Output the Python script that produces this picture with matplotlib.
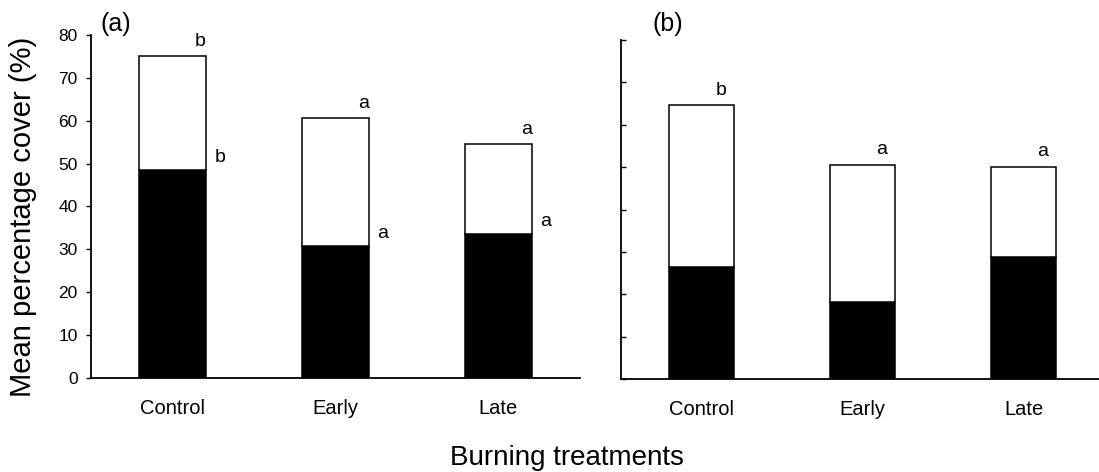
import matplotlib
matplotlib.use('Agg')
import matplotlib.pyplot as plt
import numpy as np

plt.rcParams['font.family'] = ['Liberation Sans', 'DejaVu Sans']

# values
treatments = ['Control', 'Early', 'Late']
total_a = [75.1, 60.6, 54.6]      # whole bar, panel (a)
lower_a = [48.5, 30.8, 33.6]      # black part, panel (a)
total_b = [64.6, 50.5, 50.1]      # whole bar, panel (b)
lower_b = [26.5, 18.1, 28.8]      # black part, panel (b)
letters_top_a = ['b', 'a', 'a']
letters_low_a = ['b', 'a', 'a']
letters_top_b = ['b', 'a', 'a']


def draw_panel(ax, total, lower, width=0.405):
    x = np.arange(1, len(total) + 1)
    upper = np.array(total) - np.array(lower)
    ax.bar(x, lower, width, color='black', edgecolor='black', linewidth=1.1)
    ax.bar(x, upper, width, bottom=lower, color='white', edgecolor='black', linewidth=1.1)
    ax.set_xlim(0.5, 3.5)
    ax.set_ylim(0, 80)
    ax.set_xticks(x)
    ax.set_xticklabels(treatments, fontsize=14.5)
    ax.tick_params(axis='x', length=0, pad=15)
    ax.set_yticks(range(0, 81, 10))
    ax.spines['top'].set_visible(False)
    ax.spines['right'].set_visible(False)
    for s in ('left', 'bottom'):
        ax.spines[s].set_linewidth(1.3)
    return x


fig = plt.figure(figsize=(10.99, 4.72), dpi=100)
ax1 = fig.add_axes([91 / 1099, 94 / 472, 489 / 1099, 343 / 472])
ax2 = fig.add_axes([621 / 1099, 93 / 472, 483 / 1099, 339 / 472])

x = draw_panel(ax1, total_a, lower_a)
ax1.tick_params(axis='y', direction='out', length=3.6, width=1, labelsize=12.5, pad=6)
for xi, t, lo, lt, ll in zip(x, total_a, lower_a, letters_top_a, letters_low_a):
    ax1.text(xi + 0.17, t + 2.4, lt, ha='center', va='baseline', fontsize=14)
    ax1.text(xi + 0.29, lo + 1.9, ll, ha='center', va='baseline', fontsize=14)

x = draw_panel(ax2, total_b, lower_b)
ax2.tick_params(axis='y', direction='in', length=3.6, width=1, labelleft=False)
for xi, t, lt in zip(x, total_b, letters_top_b):
    ax2.text(xi + 0.12, t + 2.5, lt, ha='center', va='baseline', fontsize=14)

fig.text(100 / 1099, 1 - 31 / 472, '(a)', fontsize=18, va='baseline', ha='left')
fig.text(653 / 1099, 1 - 31 / 472, '(b)', fontsize=18, va='baseline', ha='left')
fig.text(23 / 1099, 1 - 217 / 472, 'Mean percentage cover (%)', rotation=90,
         ha='center', va='center', fontsize=21)
fig.text(567 / 1099, 7 / 472, 'Burning treatments', ha='center', va='baseline', fontsize=20)

fig.savefig('out.png', dpi=100)
